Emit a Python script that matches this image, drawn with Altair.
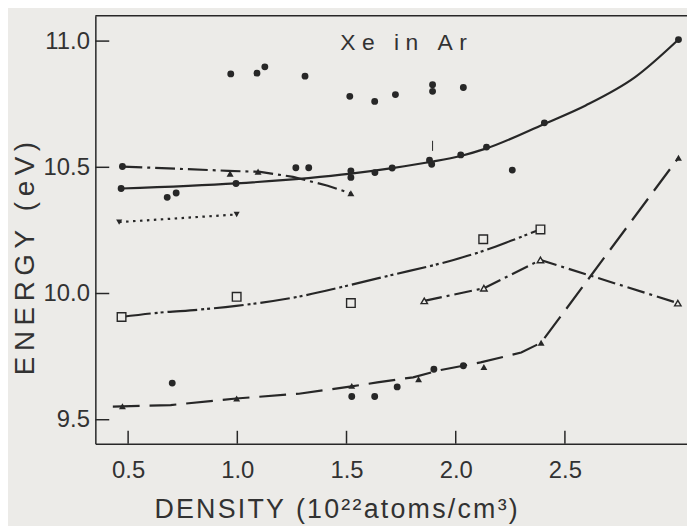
import altair as alt
import pandas as pd

# ---------------- data ----------------
# solid curve (drawn fit) and its filled markers
solid_curve_x = [0.468, 0.994, 1.52, 1.709, 1.89, 2.023, 2.141, 2.406, 2.595, 2.823, 3.02]
solid_curve_y = [10.416, 10.436, 10.475, 10.497, 10.522, 10.545, 10.575, 10.672, 10.745, 10.858, 11.006]
solid_pts_x = [0.468, 0.994, 1.52, 1.52, 1.63, 1.709, 1.88, 1.89, 2.023, 2.141, 2.406, 3.02]
solid_pts_y = [10.416, 10.436, 10.486, 10.46, 10.479, 10.497, 10.528, 10.512, 10.549, 10.58, 10.676, 11.006]

# loose filled circles
dots_x = [0.97, 1.09, 1.126, 1.31, 1.515, 1.629, 1.724, 1.894, 1.894, 2.035, 2.259,
          1.268, 1.327, 0.679, 0.72, 0.474, 0.702, 1.524, 1.629, 1.732, 1.9, 2.035]
dots_y = [10.87, 10.873, 10.898, 10.861, 10.781, 10.761, 10.788, 10.827, 10.801, 10.816, 10.489,
          10.498, 10.498, 10.381, 10.398, 10.503, 9.645, 9.592, 9.592, 9.63, 9.70, 9.714]

# dash-dot line falling from 10.5 (filled triangles)
dd_line_x = [0.474, 0.959, 1.105, 1.255, 1.414, 1.518]
dd_line_y = [10.503, 10.486, 10.482, 10.462, 10.427, 10.397]
dd_pts_x = [0.967, 1.095, 1.52]
dd_pts_y = [10.475, 10.483, 10.397]

# dotted line (inverted triangles)
dot_line_x = [0.459, 0.997]
dot_line_y = [10.283, 10.313]

# dash-dot-dot line with open squares
sq_line_x = [0.468, 0.641, 0.823, 0.995, 1.277, 1.518, 1.686, 1.99, 2.141, 2.262, 2.388]
sq_line_y = [9.907, 9.924, 9.936, 9.951, 9.987, 10.034, 10.069, 10.133, 10.173, 10.212, 10.254]
sq_pts_x = [0.470, 0.997, 1.520, 2.126, 2.388]
sq_pts_y = [9.907, 9.987, 9.962, 10.215, 10.254]

# dash-dot line with open triangles
ot_x = [1.856, 2.129, 2.388, 3.017]
ot_y = [9.971, 10.021, 10.133, 9.962]

# long-dash line with filled triangles
ld_line_x = [0.43, 0.695, 0.995, 1.282, 1.523, 1.641, 1.805, 1.932, 2.114, 2.3, 2.391, 3.02]
ld_line_y = [9.552, 9.558, 9.584, 9.603, 9.632, 9.648, 9.668, 9.697, 9.727, 9.766, 9.805, 10.538]
ld_pts_x = [0.474, 0.997, 1.524, 1.83, 2.129, 2.391, 3.02]
ld_pts_y = [9.553, 9.584, 9.634, 9.66, 9.709, 9.805, 10.538]

# small error tick
err_x = [1.894]
err_lo = [10.565]
err_hi = [10.605]

x_ticks = [0.5, 1.0, 1.5, 2.0, 2.5]
y_ticks = [9.5, 10.0, 10.5, 11.0]
panel_label = "Xe in Ar"
x_title = "DENSITY (10\u00b2\u00b2atoms/cm\u00b3)"
y_title = "ENERGY (eV)"

# ---------------- styling ----------------
INK = "#272727"
TXT = "#323232"
BG = "#ecebe8"
FONT = "Liberation Sans"
W, H = 596, 431
xs = alt.Scale(domain=[0.35, 3.059], nice=False, zero=False)
ys = alt.Scale(domain=[9.405, 11.1], nice=False, zero=False)

HS = "\u200a"
TS = "\u2009"
xaxis = alt.Axis(values=x_ticks, format=".1f", ticks=False, grid=False,
                 labelFontSize=24, labelFont=FONT, labelColor=TXT, labelPadding=15,
                 domainColor=INK, domainWidth=1.5,
                 title=HS.join(x_title), titleFont=FONT, titleFontSize=27,
                 titleFontWeight="normal", titleColor=TXT,
                 titleX=242, titleY=74, titleAlign="center", titleBaseline="alphabetic")
yaxis = alt.Axis(values=y_ticks, format=".1f", ticks=False, grid=False,
                 labelFontSize=24, labelFont=FONT, labelColor=TXT, labelPadding=6,
                 domainColor=INK, domainWidth=1.5,
                 title=TS.join(y_title), titleFont=FONT, titleFontSize=28,
                 titleFontWeight="normal", titleColor=TXT,
                 titleX=-70, titleY=244, titleAngle=270, titleAlign="center",
                 titleBaseline="middle")


def X(f):
    return alt.X(f, type="quantitative", scale=xs, axis=xaxis)


def Y(f):
    return alt.Y(f, type="quantitative", scale=ys, axis=yaxis)


def line(xv, yv, dash=None, interp="linear"):
    df = pd.DataFrame({"d": xv, "e": yv})
    kw = dict(color=INK, strokeWidth=2.2, interpolate=interp, strokeCap="butt")
    if dash:
        kw["strokeDash"] = dash
    return alt.Chart(df).mark_line(**kw).encode(x=X("d"), y=Y("e"))


def pts(xv, yv, shape, size, filled=True):
    df = pd.DataFrame({"d": xv, "e": yv})
    if filled:
        m = alt.Chart(df).mark_point(shape=shape, size=size, filled=True, color=INK, opacity=1)
    else:
        m = alt.Chart(df).mark_point(shape=shape, size=size, filled=True, fill=BG,
                                     stroke=INK, strokeWidth=1.4, opacity=1, fillOpacity=1)
    return m.encode(x=X("d"), y=Y("e"))


xt = alt.Chart(pd.DataFrame({"v": x_ticks})).mark_rule(color=INK, strokeWidth=1.5).encode(
    x=X("v"), y=alt.value(H), y2=alt.value(H - 13))
yt = alt.Chart(pd.DataFrame({"v": y_ticks})).mark_rule(color=INK, strokeWidth=1.5).encode(
    y=Y("v"), x=alt.value(0), x2=alt.value(14))
top = alt.Chart(pd.DataFrame({"a": [0]})).mark_rule(color=INK, strokeWidth=1.5).encode(
    x=alt.value(0), x2=alt.value(W), y=alt.value(0))
err = alt.Chart(pd.DataFrame({"d": err_x, "lo": err_lo, "hi": err_hi})).mark_rule(
    color=INK, strokeWidth=1).encode(x=X("d"), y=Y("lo"), y2="hi:Q")

label = alt.Chart(pd.DataFrame({"t": [(TS + HS).join(panel_label)]})).mark_text(
    font=FONT, fontSize=23, color=TXT, align="center", baseline="alphabetic").encode(
    x=alt.datum(1.761), y=alt.datum(10.965), text="t:N")

layers = [
    xt, yt, top,
    line(solid_curve_x, solid_curve_y, None, "monotone"),
    line(dd_line_x, dd_line_y, [20, 5, 3, 5]),
    line(dot_line_x, dot_line_y, [2.5, 4.5]),
    line(sq_line_x, sq_line_y, [30, 4, 3, 3, 3, 4], "monotone"),
    line(ot_x, ot_y, [18, 5, 3, 5]),
    line(ld_line_x, ld_line_y, [27, 10]),
    err,
    pts(solid_pts_x, solid_pts_y, "circle", 48),
    pts(dots_x, dots_y, "circle", 48),
    pts(dd_pts_x, dd_pts_y, "triangle-up", 50),
    pts(dot_line_x, dot_line_y, "triangle-down", 38),
    pts(sq_pts_x, sq_pts_y, "square", 75, filled=False),
    pts(ot_x, ot_y, "triangle-up", 42, filled=False),
    pts(ld_pts_x, ld_pts_y, "triangle-up", 48),
    label,
]

chart = alt.layer(*layers).properties(
    width=W, height=H,
    autosize=alt.AutoSizeParams(type="none"),
    padding={"left": 88, "top": 6, "right": 0, "bottom": 81},
    background=BG,
).configure_view(stroke=None)

chart.save("out.html", embed_options={"renderer": "svg", "actions": False})
